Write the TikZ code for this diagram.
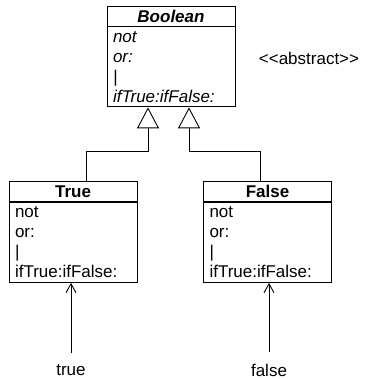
\documentclass[tikz,border=0pt]{standalone}
\usepackage{fontspec}
\setmainfont{Liberation Sans}
\usetikzlibrary{arrows.meta}

\tikzset{
	classhead/.style={draw, line width=0.9pt, minimum width=128pt, minimum height=20pt, inner sep=0pt, font=\fontsize{17}{20}\selectfont\bfseries},
	classbody/.style={draw, line width=0.9pt, anchor=north, text width=116pt, inner xsep=6pt, inner ysep=0pt, minimum height=80pt, align=left, font=\fontsize{17}{20}\selectfont},
	inherit/.style={line width=0.9pt, -{Triangle[open, length=21pt, width=22pt, line width=0.9pt]}},
	ref/.style={line width=0.9pt, -{Straight Barb[length=9pt, width=10pt, line width=0.9pt]}, shorten <=8pt},
	lbl/.style={font=\fontsize{17}{20}\selectfont}
}

\begin{document}
\begin{tikzpicture}[x=1pt, y=-1pt]
	\useasboundingbox (0,0) rectangle (370,379);

	% Abstract superclass
	\node[classhead] (boolh) at (171,16) {\itshape Boolean};
	\node[classbody] (boolb) at (boolh.south) {\itshape not\\or:\\\textbar\\ifTrue:ifFalse:};
	\node[lbl] (stereo) at (309,58) {{<}{<}abstract{>}{>}};

	% Concrete subclasses
	\node[classhead] (trueh) at (73,191.5) {True};
	\node[classbody] (trueb) at (trueh.south) {not\\or:\\\textbar\\ifTrue:ifFalse:};
	\node[classhead] (falseh) at (267.5,191.5) {False};
	\node[classbody] (falseb) at (falseh.south) {not\\or:\\\textbar\\ifTrue:ifFalse:};

	% Inheritance
	\coordinate (inL) at ([xshift=-23pt]boolb.south);
	\coordinate (inR) at ([xshift=18pt]boolb.south);
	\draw[inherit] ([xshift=13pt]trueh.north) |- ([yshift=-44pt]inL) -- (inL);
	\draw[inherit] ([xshift=-7.5pt]falseh.north) |- ([yshift=-44pt]inR) -- (inR);

	% Instances
	\node[lbl] (truelbl) at (71,370) {true};
	\node[lbl] (falselbl) at (269,370) {false};
	\draw[ref] (truelbl.north) -- (truelbl.north |- trueb.south);
	\draw[ref] (falselbl.north) -- (falselbl.north |- falseb.south);
\end{tikzpicture}
\end{document}
